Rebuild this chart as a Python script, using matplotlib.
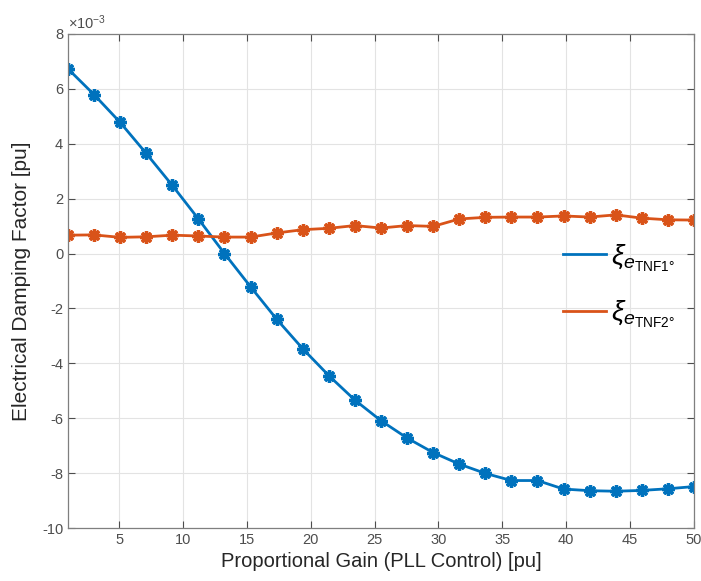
import matplotlib.pyplot as plt

plt.rcParams['font.family'] = ['Liberation Sans', 'DejaVu Sans']
plt.rcParams['axes.unicode_minus'] = False
plt.rcParams['mathtext.fontset'] = 'custom'
plt.rcParams['mathtext.rm'] = 'Liberation Sans'
plt.rcParams['mathtext.it'] = 'Liberation Sans:italic'

# PLL proportional gain [pu]
kp = [1.0, 3.04, 5.08, 7.12, 9.17, 11.21, 13.25, 15.29, 17.33, 19.38,
      21.42, 23.46, 25.5, 27.54, 29.58, 31.62, 33.67, 35.71, 37.75, 39.79,
      41.83, 43.88, 45.92, 47.96, 50.0]

# electrical damping factor [pu], in units of 1e-3
xi_tnf1 = [6.73, 5.79, 4.78, 3.65, 2.48, 1.26, 0.0, -1.21, -2.39, -3.47,
           -4.45, -5.34, -6.09, -6.72, -7.25, -7.67, -8.01, -8.27, -8.27, -8.58,
           -8.64, -8.66, -8.63, -8.57, -8.49]
xi_tnf2 = [0.67, 0.68, 0.59, 0.61, 0.67, 0.64, 0.60, 0.60, 0.75, 0.87,
           0.92, 1.02, 0.93, 1.02, 0.99, 1.26, 1.32, 1.33, 1.33, 1.37,
           1.33, 1.41, 1.29, 1.23, 1.22]

blue = '#0072BD'
orange = '#D95319'
ast = (8, 2, 0)

fig = plt.figure(figsize=(7.01, 5.81), dpi=100)
ax = fig.add_axes([0.097, 0.0912, 0.893, 0.8503])

ax.plot(kp, xi_tnf1, color=blue, lw=2, marker=ast, ms=9, mew=2.4,
        label=r'$\xi_{e_{\mathrm{TNF1°}}}$')
ax.plot(kp, xi_tnf2, color=orange, lw=2, marker=ast, ms=9, mew=2.4,
        label=r'$\xi_{e_{\mathrm{TNF2°}}}$')

ax.set_xlim(1, 50)
ax.set_ylim(-10, 8)
ax.set_xticks([5, 10, 15, 20, 25, 30, 35, 40, 45, 50])
ax.set_yticks(range(-10, 9, 2))
ax.text(0.0, 1.004, r'$\times10^{-3}$', transform=ax.transAxes,
        fontsize=10.5, color='#4d4d4d', ha='left', va='bottom')

ax.grid(True, color='#e3e3e3', lw=0.8)
ax.set_axisbelow(True)
ax.tick_params(direction='in', top=True, right=True, labelsize=10.5,
               colors='#4d4d4d', length=5, width=0.8)
for s in ax.spines.values():
    s.set_color('#7f7f7f')
    s.set_linewidth(0.9)

ax.set_xlabel('Proportional Gain (PLL Control) [pu]', fontsize=14.5, color='#262626', labelpad=4)
ax.set_ylabel('Electrical Damping Factor [pu]', fontsize=15, color='#262626', labelpad=8)

leg = ax.legend(loc='upper left', bbox_to_anchor=(0.79, 0.579), frameon=False,
                fontsize=20, handlelength=1.55, handletextpad=0.2, labelspacing=0.9,
                borderpad=0, borderaxespad=0)
for h in leg.legend_handles:
    h.set_marker('')

fig.savefig('out.png', dpi=100)
